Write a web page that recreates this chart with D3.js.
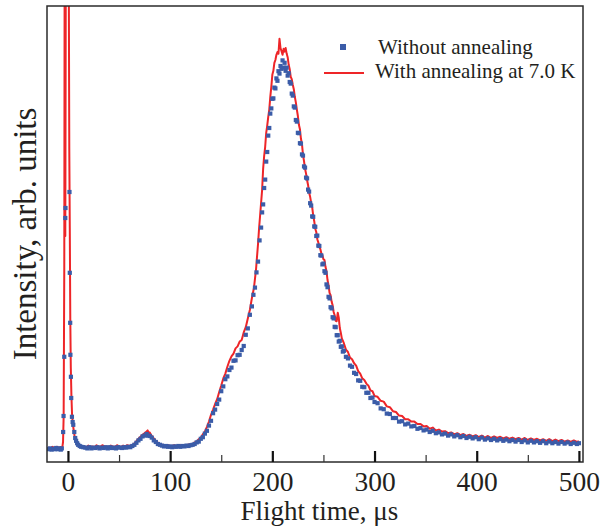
<!DOCTYPE html>
<html>
<head>
<meta charset="utf-8">
<script src="https://cdn.jsdelivr.net/npm/d3@7"></script>
<style>
  body { margin: 0; background: #fff; }
  text { font-family: "Liberation Serif", "Times New Roman", serif; fill: #231f20; }
</style>
</head>
<body>
<div id="chart"></div>
<script>
// Flight time ticks
var majorTicks = [0, 100, 200, 300, 400, 500];
var minorTicks = [50, 150, 250, 350, 450];

var seriesNames = ["Without annealing", "With annealing at 7.0 K"];

// Without annealing: [flight time (us), intensity (arb.)]
var withoutAnnealing = [
  [-19,-0.3],[-17.5,-0.1],[-16,-0.4],[-14.5,-0.2],[-13,-0.3],[-11.5,0],[-10,-0.3],[-8.5,-0.1],[-7,-0.4],[-6,-0.1],
  [-4.7,4],[-4.3,8],[-3.6,22.8],[-2.6,57.5],[-2.4,60],[1.5,64],[1.8,43.8],[2.2,31.3],[2.4,23.3],[2.9,17.8],
  [3.2,12.5],[3.9,7.8],[4.6,6.5],[5.2,5.8],[6.2,4],[7.1,2.5],[8,1.8],[9,1.2],[10,0.8],[11.5,0.5],[13,0.3],
  [15,0.2],[17,0.1],[19,-0.1],[21,0.2],[23,-0.1],[25,0.1],[27,0],[29,0.2],[31,-0.1],[33,0.1],[35,0],[37,0.2],
  [39,-0.1],[41,0.2],[43,0],[45,0.1],[47,-0.1],[49,0.2],[51,0.1],[53,0],[55,0.2],[57,0.1],[59,0.3],[61,0.2],[63,0.5],
  [65,0.8],[67,1.3],[69,1.9],[71,2.3],[73,2.9],[75,3.1],[77,3.5],[78.5,3.1],[80,3.0],[82,2.6],[84,1.9],[86,1.5],
  [88,1.0],[90,0.8],[92,0.6],[94,0.4],[96,0.5],[98,0.3],[100,0.4],[102,0.2],[104,0.4],[106,0.3],[108,0.5],[110,0.3],
  [112,0.5],[114,0.4],[116,0.6],[118,0.5],[120,0.7],[122,0.8],[124,1.0],[126,1.4],[128,1.6],[130,2.3],[132,2.7],
  [134,3.6],[136,4.3],[138,5.6],[140,6.8],[142,8.7],[144,9.6],[146,11.0],[148,12.1],[150,14.2],[152,15.4],[154,17.2],
  [156,17.9],[158,19.5],[160,20.1],[162,21.8],[164,21.9],[166,23.2],[168,23.3],[170,24.5],[172,25.5],[174,28.3],
  [176,29.9],[178,33.3],[180,35.4],[181.5,38.3],[183,40.1],[184.5,43.9],[186,46.6],[187.5,51.9],[189,55.1],[190,58.9],
  [191,60.9],[192,65.0],[193,67.1],[194,71.6],[195,74.0],[196,78.1],[197,80.0],[198,83.6],[199,84.9],[200,87.3],
  [201,87.4],[202,90.1],[203,89.9],[204,92.4],[205,91.8],[206,94.2],[207,93.6],[208,95.5],[209,94.8],[210,96.9],
  [211,95.1],[212,96.3],[213,94.3],[214,95.1],[215,93.1],[216,93.7],[217,91.5],[218,91.1],[219,88.6],[220,88.1],
  [221,85.4],[222,85.1],[223,82.0],[224,81.6],[225,78.8],[226,78.7],[227,76.2],[228,76.1],[229,73.4],[230,73.1],
  [231,70.4],[232,70.1],[233,67.6],[234,67.4],[235,64.6],[236,64.1],[237,61.2],[238,60.6],[239,57.9],[240,57.8],
  [241,55.4],[242,55.3],[243,53.0],[244,53.1],[245,50.6],[246,50.5],[247,48.2],[248,48.1],[249,45.9],[250,46.1],
  [251,44.2],[252,43.8],[253,40.9],[254,40.2],[255,37.8],[256,37.4],[257,35.2],[258,34.9],[259,32.7],[260,32.4],
  [261,30.3],[262,30.2],[263,28.2],[264,28.2],[265,26.6],[266,26.8],[267,25.3],[268,25.4],[269,24.1],[270,24.3],
  [272,22.8],[274,22.4],[276,20.6],[278,20.3],[280,18.8],[282,18.5],[284,16.9],[286,16.8],[288,15.3],[290,15.2],
  [292,13.8],[294,13.8],[296,12.5],[298,12.6],[300,11.5],[303,11.2],[306,9.9],[309,9.7],[312,8.6],[315,8.5],
  [318,7.5],[321,7.5],[324,6.6],[327,6.7],[330,5.9],[333,6.1],[336,5.4],[339,5.5],[342,4.8],[345,5.0],[348,4.4],
  [351,4.6],[354,4.0],[357,4.3],[360,3.7],[363,3.9],[366,3.4],[369,3.6],[372,3.1],[375,3.4],[378,2.9],[381,3.2],
  [384,2.7],[387,3.0],[390,2.5],[393,2.8],[396,2.4],[399,2.7],[402,2.2],[405,2.6],[408,2.1],[411,2.4],[414,2.0],
  [417,2.3],[420,1.9],[423,2.2],[426,1.8],[429,2.1],[432,1.7],[435,2.0],[438,1.6],[441,2.0],[444,1.5],[447,1.9],
  [450,1.4],[453,1.8],[456,1.4],[459,1.7],[462,1.3],[465,1.7],[468,1.2],[471,1.6],[474,1.2],[477,1.5],[480,1.1],
  [483,1.5],[486,1.1],[489,1.4],[492,1.0],[495,1.3],[498,1.0],[500,1.2]
];

// With annealing at 7.0 K: [flight time (us), intensity (arb.)]
var withAnnealing = [
  [-19,0.1],[-17,0],[-15,0.3],[-13,0],[-11,0.3],[-9,0.1],[-7,0.2],[-5.5,0.2],[-4.8,1.5],[-4.2,8],[-3.6,45],
  [-3.2,130],[-2.9,130],[-2.6,53],[-2.3,90],[-2,135],[0.2,140],[0.8,120],[1.3,75],[1.8,55],[2.3,32],[2.8,20],
  [3.4,13],[4,8.5],[4.8,6],[5.6,4.5],[6.5,3],[7.5,2],[8.5,1.3],[10,0.8],[12,0.5],[14,0.3],
  [16,0.4],[18,0.2],[20,0.6],[22,0.3],[24,0.4],[26,0.2],[28,0.7],[30,0.3],[32,0.4],[34,0.7],[36,0.3],[38,0.4],
  [40,0.2],[42,0.6],[44,0.4],[46,0.3],[48,0.7],[50,0.4],[52,0.3],[54,0.6],[56,0.4],[58,0.7],[60,0.5],[62,0.7],
  [64,0.9],[66,1.4],[68,2.0],[70,2.6],[72,3.1],[74,3.5],[76,3.9],[78,4.4],[79,3.6],[80,3.9],[82,3.0],[84,2.4],
  [86,1.8],[88,1.3],[90,1.0],[92,0.8],[94,0.6],[96,0.5],[98,0.7],[100,0.4],[102,0.5],[104,0.7],[106,0.4],[108,0.5],
  [110,0.7],[112,0.5],[114,0.7],[116,0.6],[118,0.9],[120,0.8],[122,1.0],[124,1.4],[126,1.6],[128,2.2],[130,2.6],
  [132,3.4],[134,4.1],[136,5.3],[138,6.6],[140,8.3],[142,9.6],[144,11.0],[146,12.2],[148,14.0],[150,15.6],
  [152,17.4],[154,18.6],[156,20.3],[158,21.8],[160,22.9],[162,23.6],[164,24.9],[166,25.4],[168,26.6],[170,27.0],
  [172,28.9],[174,30.2],[176,32.4],[178,34.5],[180,37.5],[182,40.0],[183,42.3],[184,44.5],[185,47.8],[186,51.0],
  [187,54.8],[188,58.0],[189,61.3],[190,64.5],[191,69.8],[192,73.0],[193,75.3],[194,78.8],[195,80.6],[196,82.8],
  [197,84.6],[198,87.8],[199,90.3],[200,93.3],[201,94.3],[202,96.3],[203,97.0],[204,98.3],[205,99.0],[206,98.6],
  [207,102.3],[208,100.0],[209,99.2],[210,98.3],[211,99.8],[212,99.1],[213,100.0],[214,98.6],[215,97.7],[216,95.8],
  [217,94.7],[218,92.8],[219,92.2],[220,90.8],[221,89.7],[222,87.8],[223,86.4],[224,84.6],[225,83.0],[226,80.8],
  [227,79.7],[228,77.3],[229,76.0],[230,73.3],[231,71.7],[232,69.8],[233,68.6],[234,67.0],[235,65.7],[236,63.8],
  [237,62.8],[238,61.3],[239,60.2],[240,58.1],[241,56.7],[242,54.8],[243,54.0],[244,52.2],[245,51.4],[246,50.3],
  [247,49.7],[248,48.6],[249,48.2],[250,47.2],[251,47.0],[252,45.3],[253,44.2],[254,42.0],[255,40.7],[256,38.8],
  [257,38.2],[258,36.6],[259,35.7],[260,34.0],[261,33.2],[262,31.8],[263,31.7],[264,33.8],[265,32.6],[266,30.0],
  [267,28.8],[268,27.4],[270,26.2],[272,24.6],[274,24.0],[276,22.6],[278,22.2],[280,21.2],[282,20.6],[284,19.2],
  [286,18.6],[288,17.4],[290,17.0],[292,16.1],[294,15.6],[296,14.4],[298,14.2],[300,13.0],[303,12.8],[306,11.8],
  [309,11.6],[312,10.4],[315,10.2],[318,9.2],[321,9.0],[324,8.1],[327,8.0],[330,7.2],[333,7.2],[336,6.6],[339,6.6],
  [342,6.0],[345,6.0],[348,5.4],[351,5.5],[354,4.8],[357,5.1],[360,4.4],[363,4.6],[366,4.1],[369,4.2],[372,3.7],
  [375,3.9],[378,3.4],[381,3.7],[384,3.2],[387,3.5],[390,3.0],[393,3.3],[396,2.9],[399,3.2],[402,2.7],[405,3.1],
  [408,2.6],[411,3.0],[414,2.5],[417,2.9],[420,2.5],[423,2.8],[426,2.4],[429,2.7],[432,2.3],[435,2.6],[438,2.2],
  [441,2.5],[444,2.1],[447,2.5],[450,2.0],[453,2.4],[456,2.0],[459,2.3],[462,1.9],[465,2.2],[468,1.8],[471,2.2],
  [474,1.7],[477,2.1],[480,1.7],[483,2.0],[486,1.6],[489,1.9],[492,1.5],[495,1.9],[498,1.5],[500,1.7]
];

var svgWidth = 610;
var svgHeight = 528;
var margin = {top: 6, right: 27, bottom: 66, left: 47};
var width = svgWidth - margin.left - margin.right;
var height = svgHeight - margin.top - margin.bottom;

var blue = "#3b5ca8";
var red = "#ee2528";

var svg = d3.select("#chart")
    .append("svg")
    .attr("width", svgWidth)
    .attr("height", svgHeight);

var g = svg.append("g")
    .attr("transform", "translate(" + margin.left + "," + margin.top + ")");

var x = d3.scaleLinear()
    .domain([-20.5, 504])
    .range([0, width]);

var y = d3.scaleLinear()
    .domain([-3.5, 110.5])
    .range([height, 0]);

g.append("clipPath")
    .attr("id", "plotclip")
    .append("rect")
    .attr("width", width)
    .attr("height", height);

var plot = g.append("g").attr("clip-path", "url(#plotclip)");

// red line (with annealing)
var line = d3.line()
    .x(function(d) { return x(d[0]); })
    .y(function(d) { return y(d[1]); });

plot.append("path")
    .datum(withAnnealing)
    .attr("d", line)
    .attr("fill", "none")
    .attr("stroke", red)
    .attr("stroke-width", 2)
    .attr("stroke-linejoin", "round");

// blue squares (without annealing)
var sq = 4.2;
plot.selectAll("rect.pt")
    .data(withoutAnnealing)
    .join("rect")
    .attr("class", "pt")
    .attr("x", function(d) { return x(d[0]) - sq / 2; })
    .attr("y", function(d) { return y(d[1]) - sq / 2; })
    .attr("width", sq)
    .attr("height", sq)
    .attr("fill", blue);

// frame
g.append("rect")
    .attr("width", width)
    .attr("height", height)
    .attr("fill", "none")
    .attr("stroke", "#2b2b2b")
    .attr("stroke-width", 1.5);

// inward ticks on the bottom axis
var xAxis = d3.axisBottom(x)
    .tickValues(majorTicks)
    .tickSize(-11)
    .tickPadding(9)
    .tickFormat(d3.format("d"));

var axisG = g.append("g")
    .attr("transform", "translate(0," + height + ")")
    .call(xAxis);
axisG.select(".domain").remove();
axisG.selectAll(".tick line").attr("stroke", "#111").attr("stroke-width", 2.2);
axisG.selectAll(".tick text")
    .attr("font-size", 27.5)
    .attr("font-family", "Liberation Serif, serif")
    .attr("fill", "#231f20");

var minorAxis = d3.axisBottom(x)
    .tickValues(minorTicks)
    .tickSize(-7)
    .tickFormat("");
var minorG = g.append("g")
    .attr("transform", "translate(0," + height + ")")
    .call(minorAxis);
minorG.select(".domain").remove();
minorG.selectAll(".tick line").attr("stroke", "#333").attr("stroke-width", 1.2);

// axis titles
svg.append("text")
    .attr("x", margin.left + x(250) - 4)
    .attr("y", 520)
    .attr("text-anchor", "middle")
    .attr("font-size", 27)
    .text("Flight time, \u03bcs");

svg.append("text")
    .attr("transform", "translate(36," + 234 + ") rotate(-90)")
    .attr("text-anchor", "middle")
    .attr("font-size", 33)
    .text("Intensity, arb. units");

// legend
var legend = g.append("g")
    .attr("transform", "translate(" + (343 - margin.left) + "," + (47 - margin.top) + ")");

legend.append("rect")
    .attr("x", -3)
    .attr("y", -3)
    .attr("width", 6)
    .attr("height", 6)
    .attr("fill", blue);
legend.append("text")
    .attr("x", 35)
    .attr("y", 6.5)
    .attr("font-size", 21)
    .text(seriesNames[0]);

legend.append("line")
    .attr("x1", -19)
    .attr("x2", 21)
    .attr("y1", 26)
    .attr("y2", 26)
    .attr("stroke", red)
    .attr("stroke-width", 2);
legend.append("text")
    .attr("x", 32)
    .attr("y", 31)
    .attr("font-size", 21)
    .text(seriesNames[1]);
</script>
</body>
</html>
